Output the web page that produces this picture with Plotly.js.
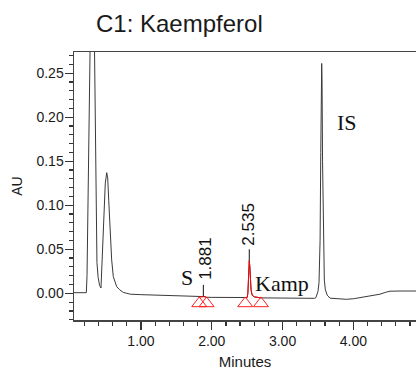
<!DOCTYPE html>
<html>
<head>
<meta charset="utf-8">
<script src="https://cdn.plot.ly/plotly-3.0.1.min.js"></script>
<style>
  html, body { margin: 0; padding: 0; background: #ffffff; }
  #chart { width: 416px; height: 370px; }
</style>
</head>
<body>
<div id="chart"></div>
<script>
// Chromatogram trace (time in minutes, absorbance in AU)
const timeMin = [
  0.054, 0.150, 0.228, 0.238, 0.245, 0.255, 0.265, 0.275, 0.285, 0.310,
  0.335, 0.348, 0.356, 0.363, 0.370, 0.378, 0.395, 0.415, 0.435, 0.453,
  0.466, 0.477, 0.496, 0.516, 0.530, 0.545, 0.562, 0.586, 0.609, 0.657,
  0.700, 0.750, 0.800, 0.850, 0.990, 1.150, 1.270, 1.500, 1.730, 1.800,
  1.823, 1.860, 1.875, 1.881, 1.890, 1.927, 2.000, 2.200, 2.400, 2.473,
  2.500, 2.510, 2.518, 2.526, 2.530, 2.538, 2.545, 2.555, 2.570, 2.600,
  2.695, 2.800, 3.000, 3.200, 3.450, 3.470, 3.500, 3.515, 3.530, 3.540,
  3.548, 3.553, 3.558, 3.565, 3.575, 3.590, 3.605, 3.630, 3.670, 3.750,
  3.900, 4.000, 4.136, 4.250, 4.376, 4.450, 4.517, 4.658, 4.900
];
const absorbance = [
  0.0007, 0.0007, 0.0007, 0.020, 0.060, 0.120, 0.180, 0.250, 0.320, 0.450,
  0.340, 0.260, 0.180, 0.110, 0.060, 0.035, 0.018, 0.009, 0.006, 0.038,
  0.065, 0.095, 0.125, 0.137, 0.131, 0.105, 0.076, 0.038, 0.019, 0.0075,
  0.004, 0.001, 0.000, -0.001, -0.0015, -0.002, -0.0025, -0.0033, -0.0040, -0.0042,
  -0.0043, -0.0042, -0.0037, -0.0034, -0.0038, -0.0045, -0.0046, -0.0048, -0.0050, -0.0050,
  -0.0048, 0.000, 0.015, 0.032, 0.037, 0.030, 0.015, 0.004, -0.002, -0.004,
  -0.0052, -0.0053, -0.0055, -0.0056, -0.0057, -0.0050, 0.002, 0.012, 0.060, 0.160,
  0.240, 0.261, 0.240, 0.150, 0.060, 0.015, 0.004, -0.002, -0.0055, -0.0062,
  -0.0068, -0.0062, -0.0045, -0.0030, -0.0010, 0.0010, 0.0024, 0.0026, 0.0026
];

// Integrated peaks
const peakNames = ["S", "Kamp"];
const peakRT = [1.881, 2.535];
const peakApexT = [1.881, 2.530];
const peakApexAU = [-0.0034, 0.037];
const peakStart = [1.823, 2.473];
const peakEnd = [1.927, 2.695];
const markerAU = -0.0115;
const connectorAU = 0.013;

// Label positions
const rtLabelX = [1.921, 2.525];
const rtLabelY = [0.0393, 0.079];
const nameLabelX = [1.645, 2.586, 3.740];
const nameLabelY = [0.0185, 0.0107, 0.1937];
const nameLabels = ["S", "Kamp", "IS"];

// x tick labels
const xTickVals = [1, 2, 3, 4];
const xTickText = ["1.00", "2.00", "3.00", "4.00"];

const traces = [];
traces.push({
  x: timeMin, y: absorbance, type: "scatter", mode: "lines",
  line: {color: "#3a3a3a", width: 1}, hoverinfo: "skip", showlegend: false
});

// red overlays on integrated peak regions
for (let i = 0; i < peakStart.length; i++) {
  const xs = [], ys = [];
  for (let k = 0; k < timeMin.length; k++) {
    if (timeMin[k] >= peakStart[i] && timeMin[k] <= peakEnd[i]) { xs.push(timeMin[k]); ys.push(absorbance[k]); }
  }
  traces.push({x: xs, y: ys, type: "scatter", mode: "lines",
    line: {color: "#ff0000", width: 1}, hoverinfo: "skip", showlegend: false});
}

// connector lines from apex to retention-time label
for (let i = 0; i < peakApexT.length; i++) {
  traces.push({x: [peakApexT[i], peakApexT[i]], y: [peakApexAU[i], peakApexAU[i] + connectorAU],
    type: "scatter", mode: "lines", line: {color: "#111111", width: 1},
    hoverinfo: "skip", showlegend: false});
}

// integration markers
const triX = [], triY = [];
for (let i = 0; i < peakStart.length; i++) {
  triX.push(peakStart[i], peakEnd[i]); triY.push(markerAU, markerAU);
}
traces.push({x: triX, y: triY, type: "scatter", mode: "markers",
  marker: {symbol: "triangle-up-open", size: 13, color: "#ff2020", line: {width: 1, color: "#ff2020"}},
  cliponaxis: false, hoverinfo: "skip", showlegend: false});

const annotations = [];
for (let i = 0; i < peakRT.length; i++) {
  annotations.push({x: rtLabelX[i], y: rtLabelY[i], xref: "x", yref: "y",
    text: peakRT[i].toFixed(3), showarrow: false, textangle: -90,
    xanchor: "center", yanchor: "middle",
    font: {family: "Liberation Sans, Arial, sans-serif", size: 17, color: "#111111"}});
}
for (let i = 0; i < nameLabels.length; i++) {
  annotations.push({x: nameLabelX[i], y: nameLabelY[i], xref: "x", yref: "y",
    text: nameLabels[i], showarrow: false,
    xanchor: i === 0 ? "center" : "left", yanchor: "middle",
    font: {family: "Liberation Serif, Times New Roman, serif", size: 22, color: "#111111"}});
}

const layout = {
  width: 416, height: 370,
  margin: {l: 74, r: 0, t: 52, b: 50, pad: 0},
  paper_bgcolor: "#ffffff", plot_bgcolor: "#ffffff",
  title: {text: "C1: Kaempferol", xref: "container", yref: "container",
    x: 96 / 416, xanchor: "left", y: 1 - 23.5 / 370, yanchor: "middle",
    font: {family: "Liberation Sans, Arial, sans-serif", size: 24, color: "#1a1a1a"}},
  font: {family: "Liberation Sans, Arial, sans-serif", size: 14, color: "#1a1a1a"},
  xaxis: {
    range: [0.054, 4.885], tickmode: "array", tickvals: xTickVals, ticktext: xTickText,
    ticks: "outside", ticklen: 8, tickwidth: 1.2, tickcolor: "#333333",
    minor: {tickmode: "linear", tick0: 0, dtick: 0.2, ticks: "outside", ticklen: 4, tickwidth: 1.2, tickcolor: "#333333"},
    showline: true, linecolor: "#444444", linewidth: 1.5, mirror: true,
    showgrid: false, zeroline: false,
    tickfont: {size: 14, color: "#1a1a1a"},
    title: {text: "Minutes", standoff: 8, font: {size: 15, color: "#1a1a1a"}}
  },
  yaxis: {
    range: [-0.0303, 0.274], tickmode: "linear", tick0: 0, dtick: 0.05, tickformat: ".2f",
    ticks: "outside", ticklen: 8, tickwidth: 1.2, tickcolor: "#333333",
    minor: {tickmode: "linear", tick0: 0, dtick: 0.01, ticks: "outside", ticklen: 4, tickwidth: 1.2, tickcolor: "#333333"},
    showline: true, linecolor: "#444444", linewidth: 1.5,
    showgrid: false, zeroline: false,
    ticklabelstandoff: -2,
    tickfont: {size: 14, color: "#1a1a1a"},
    title: {text: "AU", standoff: 10, font: {size: 14, color: "#1a1a1a"}}
  },
  annotations: annotations
};

Plotly.newPlot("chart", traces, layout, {displayModeBar: false, staticPlot: true});
</script>
</body>
</html>
